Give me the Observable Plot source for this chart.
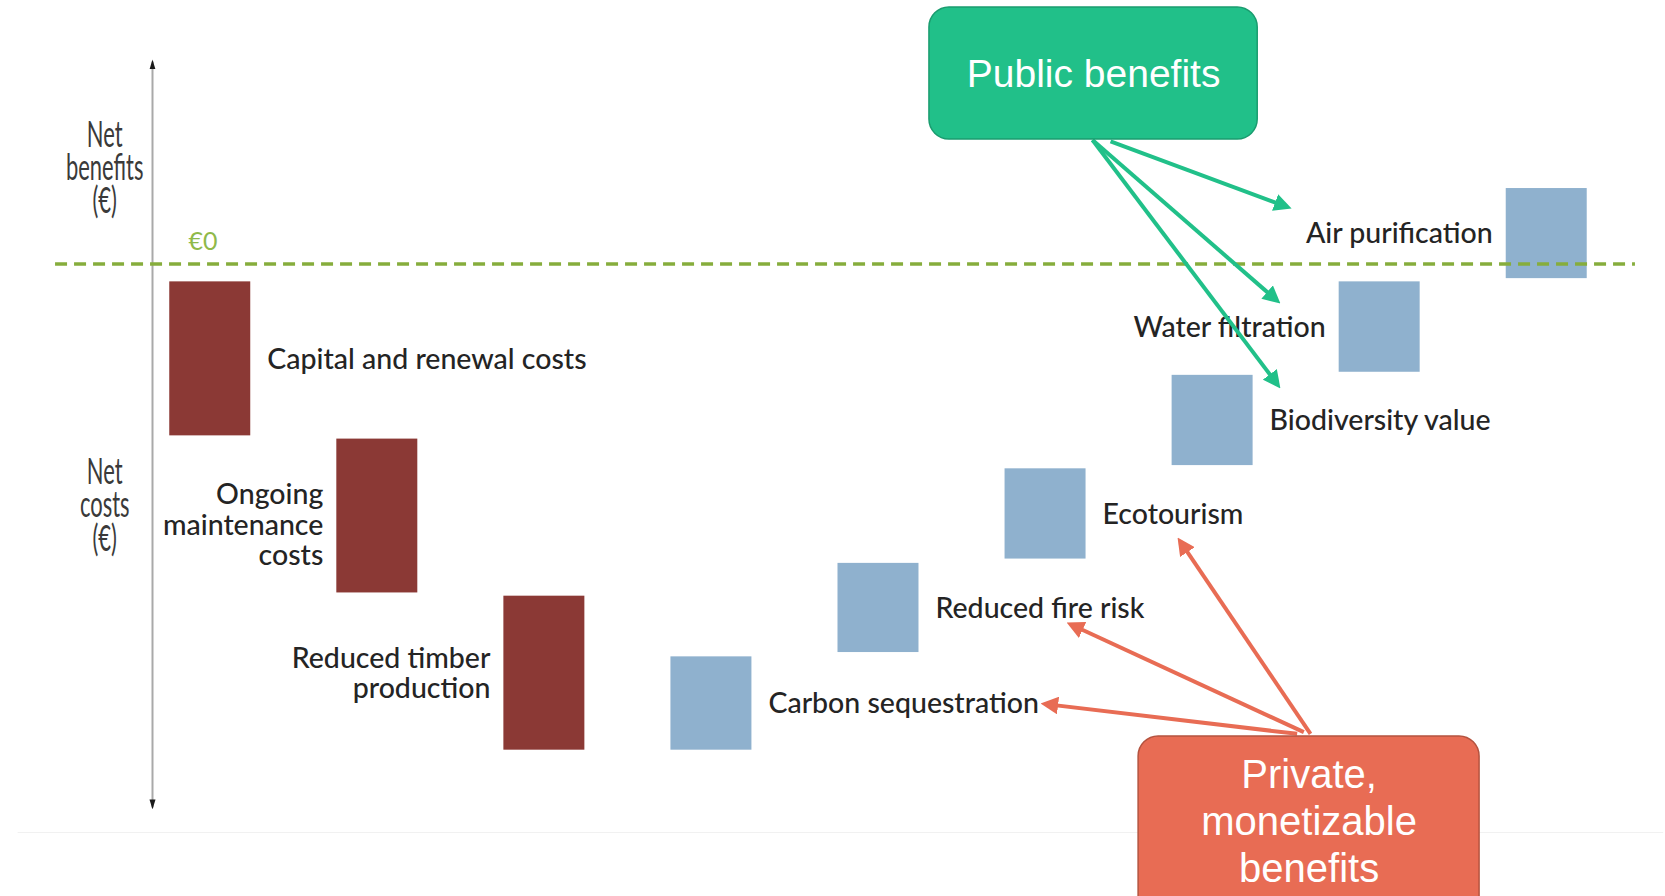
<!DOCTYPE html>
<html>
<head>
<meta charset="utf-8">
<script src="https://cdn.jsdelivr.net/npm/d3@7"></script>
<script src="https://cdn.jsdelivr.net/npm/@observablehq/plot@0.6"></script>
<style>
  html, body { margin: 0; padding: 0; background: #ffffff; overflow: hidden; }
  #chart svg { display: block; }
</style>
</head>
<body>
<div id="chart"></div>
<script>
// ---------------- DATA ----------------
const categories = [
  "Capital and renewal costs", "Ongoing maintenance costs", "Reduced timber production",
  "Carbon sequestration", "Reduced fire risk", "Ecotourism",
  "Biodiversity value", "Water filtration", "Air purification"
];
const labelText = [
  "Capital and renewal costs", "Ongoing\nmaintenance\ncosts", "Reduced timber\nproduction",
  "Carbon sequestration", "Reduced fire risk", "Ecotourism",
  "Biodiversity value", "Water filtration", "Air purification"
];
const kinds = ["cost", "cost", "cost", "benefit", "benefit", "benefit", "benefit", "benefit", "benefit"];
// bar extents (arbitrary € units, 0 = break-even)
const barTop    = [-1.16, -11.37, -21.57, -25.51, -19.44, -13.30, -7.23, -1.16, 4.90];
const barBottom = [-11.16, -21.36, -31.57, -31.57, -25.23, -19.16, -13.09, -7.03, -0.95];

const zeroLabel = "€0";
const axisTitleTop = "Net\nbenefits\n(€)";
const axisTitleBottom = "Net\ncosts\n(€)";
const publicBoxText = "Public benefits";
const privateBoxText = "Private,\nmonetizable\nbenefits";
const publicTargets = ["Air purification", "Water filtration", "Biodiversity value"];
const privateTargets = ["Carbon sequestration", "Reduced fire risk", "Ecotourism"];

// ---------------- LAYOUT ----------------
const W = 1665, H = 896;
const X0_PX = 209.75, PX_PER_X = 167.06;   // category index -> px
const Y0_PX = 263.5,  PX_PER_Y = 15.4;     // € units -> px
const BAR_HALF = 0.2424;
const labelSide = ["right", "left", "left", "right", "right", "right", "right", "left", "left"];
const labelDy = [0, 9, 0, 0, 0, 0, 0, 0, 0];

// annotation geometry (in data units)
const publicArrowStart = [[5.389, 7.96], [5.281, 8.05], [5.281, 8.05]];
const publicArrowTip   = [[6.473, 3.60], [6.406, -2.57], [6.406, -8.08]];
const privateArrowStart = [[6.506, -30.51], [6.546, -30.40], [6.586, -30.51]];
const privateArrowTip   = [[4.970, -28.54], [5.126, -23.28], [5.790, -17.76]];
const publicBox  = {x1: 4.305, x2: 6.270, y1: 8.08, y2: 16.66};
const privateBox = {x1: 5.557, x2: 7.598, y1: -45, y2: -30.68};

const toPx = ([x, y]) => [X0_PX + x * PX_PER_X, Y0_PX - y * PX_PER_Y];
const fromPx = ([px, py]) => [(px - X0_PX) / PX_PER_X, (Y0_PX - py) / PX_PER_Y];
function pullBack(from, to, d) {
  const a = toPx(from), b = toPx(to);
  const L = Math.hypot(b[0] - a[0], b[1] - a[1]);
  return fromPx([b[0] - (b[0] - a[0]) * d / L, b[1] - (b[1] - a[1]) * d / L]);
}

const bars = categories.map((c, i) => ({
  i, category: c, label: labelText[i], kind: kinds[i],
  top: barTop[i], bottom: barBottom[i], side: labelSide[i], dy: labelDy[i]
}));

function arrowRows(starts, tips, targets) {
  return targets.map((t, k) => {
    const end = pullBack(starts[k], tips[k], 5.3);
    return {target: t, x1: starts[k][0], y1: starts[k][1], x2: end[0], y2: end[1]};
  });
}
const publicArrows = arrowRows(publicArrowStart, publicArrowTip, publicTargets);
const privateArrows = arrowRows(privateArrowStart, privateArrowTip, privateTargets);

// filled triangle markers
function filledHead(color) {
  return d3.create("svg:marker")
    .attr("viewBox", "0 -5 10 10")
    .attr("markerWidth", 4.4).attr("markerHeight", 4.4)
    .attr("refX", 7).attr("refY", 0)
    .attr("orient", "auto")
    .attr("fill", color).attr("stroke", "none")
    .call(m => m.append("path").attr("d", "M0,-5L10,0L0,5Z"))
    .node();
}
function axisHead() {
  return d3.create("svg:marker")
    .attr("viewBox", "0 -5 10 10")
    .attr("markerWidth", 5).attr("markerHeight", 5)
    .attr("refX", 8).attr("refY", 0)
    .attr("orient", "auto-start-reverse")
    .attr("fill", "#1a1a1a").attr("stroke", "none")
    .call(m => m.append("path").attr("d", "M0,-3L10,0L0,3Z"))
    .node();
}

const LABEL_FONT = "Lato, 'Open Sans', sans-serif";
const BOX_FONT = "'Liberation Sans', Arial, sans-serif";
const costColor = "#8B3935", benefitColor = "#8FB1CE";
const green = "#21C089", red = "#E86C54";

const plot = Plot.plot({
  width: W, height: H, margin: 0,
  style: {background: "#ffffff"},
  x: {type: "linear", domain: [0, 8], range: [X0_PX, X0_PX + 8 * PX_PER_X], axis: null},
  y: {type: "linear", domain: [-40, 16], range: [Y0_PX + 40 * PX_PER_Y, Y0_PX - 16 * PX_PER_Y], axis: null},
  marks: [
    // faint slide edge
    Plot.ruleY([-36.92], {x1: -1.15, x2: 8.7, stroke: "#f1f1f1", strokeWidth: 1}),
    // vertical axis with arrowheads
    Plot.link([{}], {x1: -0.3457, x2: -0.3457, y1: -35.29, y2: 13.15,
      stroke: "#a9a9a9", strokeWidth: 2, markerStart: axisHead, markerEnd: axisHead}),
    // bars
    Plot.rect(bars, {x1: d => d.i - BAR_HALF, x2: d => d.i + BAR_HALF, y1: "top", y2: "bottom",
      fill: d => d.kind === "cost" ? costColor : benefitColor}),
    // break-even line
    Plot.ruleY([0], {x1: -0.926, x2: 8.531, stroke: "#86AD3C", strokeWidth: 3.5, strokeDasharray: "12,7"}),
    Plot.text([zeroLabel], {x: -0.130, y: 1.46, text: d => d, textAnchor: "start",
      fill: "#8FB94A", fontSize: 25, fontFamily: LABEL_FONT}),
    // axis titles
    Plot.text([axisTitleTop, axisTitleBottom], {x: -0.6317, y: [6.15, -15.75], text: d => d,
      textAnchor: "middle", fontSize: 36, lineHeight: 0.93, fill: "#3a3a3a",
      fontFamily: LABEL_FONT}),
    // bar labels
    Plot.text(bars.filter(d => d.side === "right"), {x: "i", y: d => (d.top + d.bottom) / 2, text: "label",
      textAnchor: "start", dx: 57, fontSize: 28.5, lineHeight: 1.06, fill: "#242424", fontWeight: 500, fontFamily: LABEL_FONT}),
    Plot.text(bars.filter(d => d.side === "left"), {x: "i", y: d => (d.top + d.bottom) / 2 - d.dy / PX_PER_Y, text: "label",
      textAnchor: "end", dx: -54, fontSize: 28.5, lineHeight: 1.06, fill: "#242424", fontWeight: 500, fontFamily: LABEL_FONT}),
    // arrows
    Plot.link(publicArrows, {x1: "x1", y1: "y1", x2: "x2", y2: "y2", stroke: green, strokeWidth: 4,
      markerEnd: filledHead}),
    Plot.link(privateArrows, {x1: "x1", y1: "y1", x2: "x2", y2: "y2", stroke: red, strokeWidth: 4,
      markerEnd: filledHead}),
    // boxes
    Plot.rect([publicBox], {x1: "x1", x2: "x2", y1: "y1", y2: "y2", rx: 20,
      fill: green, stroke: "#1A9C6F", strokeWidth: 1.5}),
    Plot.text([publicBoxText], {x: (publicBox.x1 + publicBox.x2) / 2, y: 12.3, text: d => d,
      fill: "#ffffff", fontSize: 39, fontFamily: BOX_FONT}),
    Plot.rect([privateBox], {x1: "x1", x2: "x2", y1: "y1", y2: "y2", rx: 20,
      fill: red, stroke: "#B4533F", strokeWidth: 1.5}),
    Plot.text([privateBoxText], {x: (privateBox.x1 + privateBox.x2) / 2, y: -36.07, text: d => d,
      fill: "#ffffff", fontSize: 40, lineHeight: 1.175, fontFamily: BOX_FONT})
  ]
});

// condensed typeface for the axis titles
const condensedTitles = new Set([axisTitleTop, axisTitleBottom].map(s => s.replace(/\n/g, "")));
plot.querySelectorAll("text").forEach(t => {
  if (!condensedTitles.has(t.textContent)) return;
  let tr = t.getAttribute("transform");
  if (!tr) {
    const x = +(t.getAttribute("x") || 0), y = +(t.getAttribute("y") || 0);
    tr = `translate(${x},${y})`;
    t.removeAttribute("x"); t.removeAttribute("y");
  }
  t.setAttribute("transform", tr + " scale(0.61,1)");
});

document.getElementById("chart").appendChild(plot);
</script>
</body>
</html>
